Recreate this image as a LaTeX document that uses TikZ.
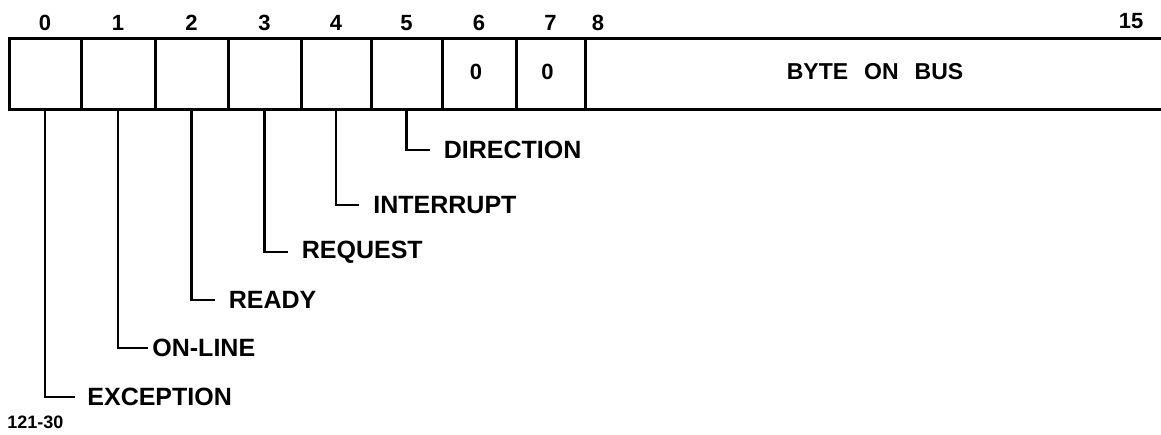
\documentclass[tikz,border=0pt]{standalone}
\usepackage{fontspec}
\setmainfont{Liberation Sans}
\usetikzlibrary{positioning}

\begin{document}
\begin{tikzpicture}[x=0.5pt, y=-0.5pt,
    cell/.style={draw, line width=1.5pt, minimum height=35.5pt, inner sep=0pt},
    celltxt/.style={font=\fontsize{11}{13}\selectfont\bfseries},
    bitnum/.style={font=\fontsize{11}{13}\selectfont\bfseries},
    fieldlbl/.style={anchor=west, font=\fontsize{12.5}{15}\selectfont\bfseries},
    leader/.style={line width=1.3pt}]
    \useasboundingbox (0,0) rectangle (1161,434);

    % Bit cells 0..7
    \foreach \i/\xa/\xb/\txt in {0/9/81/, 1/81/155/, 2/155/228/, 3/228/301/,
        4/301/371/, 5/371/442/, 6/442/516/0, 7/516/585/0}
    {
        \node[cell, minimum width={(\xb-\xa)*0.5pt}] (c\i) at ({(\xa+\xb)/2},73.5) {};
        \node[celltxt] (t\i) at ({(\xa+\xb)/2-3},72) {\txt};
        \node[bitnum] (n\i) at ({(\xa+\xb)/2},23) {\i};
    }

    % Byte field 8..15
    \draw[line width=1.5pt] (1161,38) -| (585,109) -- (1161,109);
    \node[font=\fontsize{11.5}{14}\selectfont\bfseries] (byte) at (875,72)
        {BYTE\hspace{8pt}ON\hspace{8pt}BUS};
    \node[bitnum] (n8) at (598,23) {8};
    \node[bitnum] (n15) at (1131,21) {15};

    % Field names
    \foreach \i/\name/\y/\len/\gap in {0/EXCEPTION/397/15pt/6pt, 1/ON-LINE/348/15pt/2pt,
        2/READY/300/11.5pt/7pt, 3/REQUEST/252/11.5pt/7pt,
        4/INTERRUPT/205/11.5pt/7pt, 5/DIRECTION/150/11.5pt/7pt}
    {
        \node[fieldlbl, inner sep=\gap] (l\i) at ([xshift=\len] c\i.south |- 0,\y) {\name};
        \draw[leader] (c\i.south) |- (l\i.west);
    }

    \node[anchor=west, inner sep=0pt, font=\fontsize{9}{11}\selectfont\bfseries] (fig) at (7,422) {121-30};
\end{tikzpicture}
\end{document}
